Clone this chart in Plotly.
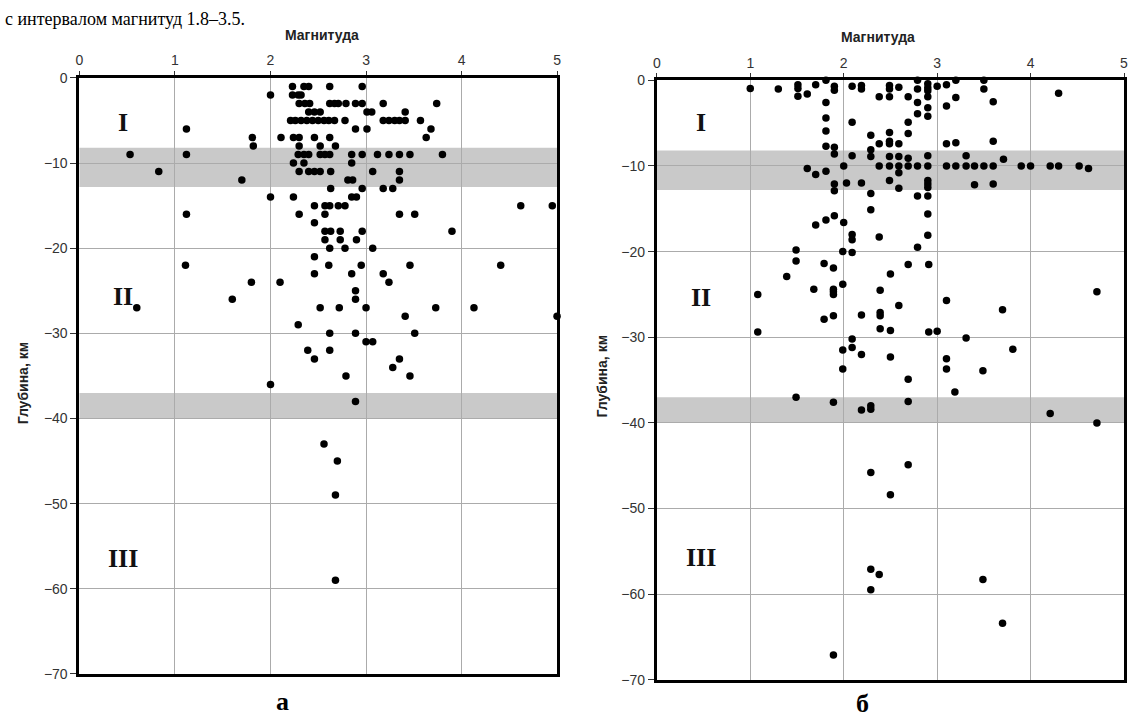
import plotly.graph_objects as go

# ---------------- data ----------------
left_row_depth = [-1, -2, -3, -4, -5, -6, -7, -8, -9, -10, -11, -12, -13, -14, -15, -16,
                  -17, -18, -19, -20, -21, -22, -23, -24, -25, -26, -27, -28, -29, -30,
                  -31, -32, -33, -34, -35, -36, -38, -43, -45, -49, -59]
left_row_mag = [
    [2.23, 2.35, 2.40, 2.62, 2.96],
    [2.00, 2.23, 2.29, 2.32],
    [2.30, 2.36, 2.41, 2.62, 2.67, 2.71, 2.79, 2.89, 2.96, 3.18, 3.74],
    [2.40, 2.46, 2.52, 3.01, 3.06, 3.41],
    [2.21, 2.26, 2.32, 2.38, 2.44, 2.50, 2.56, 2.61, 2.67, 2.78, 3.18, 3.24, 3.30, 3.35, 3.41, 3.57],
    [1.12, 2.89, 3.01, 3.68],
    [1.81, 2.11, 2.24, 2.30, 2.46, 2.62, 3.63],
    [1.82, 2.30, 2.52, 2.68],
    [0.53, 1.12, 2.29, 2.35, 2.40, 2.52, 2.57, 2.62, 2.85, 2.96, 3.12, 3.24, 3.35, 3.46, 3.80],
    [2.24, 2.35, 2.85],
    [0.83, 2.30, 2.40, 2.46, 2.52, 2.63, 3.07, 3.35],
    [1.70, 2.81, 2.86, 3.35],
    [2.63, 2.96, 3.18, 3.28],
    [2.00, 2.24, 2.85, 2.90],
    [2.46, 2.57, 2.62, 2.71, 2.78, 4.62, 4.95],
    [1.12, 2.30, 2.57, 3.35, 3.51],
    [2.46],
    [2.57, 2.63, 2.73, 2.96, 3.90],
    [2.57, 2.73, 2.90],
    [2.62, 2.78, 3.07],
    [2.46],
    [1.11, 2.61, 2.95, 3.46, 4.41],
    [2.46, 2.85, 3.18],
    [1.80, 2.10, 3.24],
    [2.89],
    [1.60, 2.89],
    [0.60, 2.52, 2.72, 3.00, 3.73, 4.13],
    [3.41, 5.00],
    [2.29],
    [2.62, 2.89, 3.51],
    [3.00, 3.07],
    [2.39, 2.62],
    [2.46, 3.35],
    [3.28],
    [2.79, 3.46],
    [2.00],
    [2.89],
    [2.56],
    [2.70],
    [2.68],
    [2.68],
]

right_mag = [
    1.00, 1.30, 1.51, 1.51, 1.51, 1.61, 1.70, 1.81, 1.90, 1.90,
    1.81, 1.81, 1.81, 1.81, 1.90, 1.90,
    1.61, 1.70, 1.81, 2.00, 1.90, 1.90, 2.03,
    1.70, 1.81, 1.90, 2.00,
    2.09, 2.19, 2.19, 2.38, 2.49, 2.49, 2.49, 2.59, 2.69, 2.79, 2.79, 2.79, 2.79,
    2.90, 2.90, 2.90, 2.90, 2.90, 2.90, 3.00, 3.10, 3.20, 3.10, 3.20, 3.50, 3.50, 3.60, 4.30,
    2.09, 2.29, 2.49, 2.69, 2.69, 2.38, 2.49, 2.49, 2.59, 3.10, 3.20, 3.60,
    2.09, 2.29, 2.29, 2.49, 2.59, 2.69, 2.90, 3.31, 3.71,
    2.38, 2.49, 2.59, 2.69, 2.79, 2.90, 3.10, 3.20, 3.31, 3.40, 3.50, 3.60, 3.90, 4.00,
    4.21, 4.30, 4.52, 4.62, 2.59,
    2.19, 2.49, 2.59, 2.90, 2.90, 2.90, 3.40, 3.60,
    2.29, 2.79, 2.90, 2.29, 2.90,
    2.09, 2.09, 2.38, 2.90,
    2.09, 2.79, 1.49, 1.49, 1.99, 1.79, 1.89, 1.39, 2.50, 2.69, 2.91, 1.99, 1.68,
    1.89, 1.89, 1.89, 2.39, 1.08, 4.71, 3.10, 2.59, 3.70, 2.19, 2.39, 2.39, 1.89,
    1.79, 2.39, 2.50, 2.91, 3.00, 1.08, 3.31, 2.09, 2.09, 1.99, 3.81, 2.19, 2.50,
    3.10, 3.10, 1.99, 3.49, 2.69, 3.19, 1.49, 1.89, 2.69, 2.19, 2.29, 2.29, 4.21, 4.71,
    2.29, 2.69, 2.50, 2.29, 2.38, 2.29, 3.49, 3.70, 1.89,
]
right_depth = [
    -0.95, -1.0, -0.5, -0.95, -1.87, -1.6, -0.5, 0.0, -0.7, -1.15,
    -2.6, -4.4, -5.9, -7.7, -7.8, -8.6,
    -10.3, -11.0, -10.6, -10.0, -12.1, -12.9, -12.0,
    -16.9, -16.3, -15.8, -16.6,
    -0.7, -0.6, -1.0, -1.9, -0.6, -1.0, -1.9, -0.8, -1.9, 0.0, -1.0, -2.6, -3.9,
    -0.4, -0.85, -1.2, -1.9, -3.2, -4.2, -0.7, -0.5, 0.0, -3.0, -2.0, 0.0, -1.0, -2.5, -1.5,
    -4.9, -6.4, -6.1, -4.9, -6.2, -7.4, -7.1, -7.4, -7.4, -7.4, -7.3, -7.1,
    -8.8, -8.1, -8.9, -8.9, -8.9, -9.1, -8.8, -8.8, -9.2,
    -10.0, -10.0, -10.0, -10.0, -10.0, -10.0, -10.0, -10.0, -10.0, -10.0, -10.0, -10.0, -10.0, -10.0,
    -10.0, -10.0, -10.0, -10.3, -10.8,
    -12.0, -11.7, -12.6, -11.7, -12.1, -12.5, -12.2, -12.1,
    -13.2, -13.5, -13.5, -15.1, -15.6,
    -18.0, -18.6, -18.3, -18.1,
    -20.1, -19.5, -19.8, -21.1, -20.0, -21.4, -21.9, -22.9, -22.6, -21.5, -21.5, -23.8, -24.4,
    -24.4, -24.7, -25.0, -24.5, -25.0, -24.7, -25.7, -26.3, -26.8, -27.4, -27.1, -27.5, -27.5,
    -27.9, -29.0, -29.2, -29.4, -29.3, -29.4, -30.1, -30.2, -31.2, -31.5, -31.4, -32.0, -32.3,
    -32.5, -33.7, -33.7, -33.9, -34.9, -36.4, -37.0, -37.6, -37.5, -38.5, -38.0, -38.4, -38.9, -40.0,
    -45.8, -44.9, -48.4, -57.1, -57.7, -59.5, -58.3, -63.4, -67.1,
]

band_top = [-8.2, -37.0]
band_bottom = [-12.8, -40.0]
zone_labels = ["I", "II", "III"]
zone_depth_left = [-5.2, -25.7, -56.4]
zone_depth_right = [-4.9, -25.3, -55.7]
x_ticks = [0, 1, 2, 3, 4, 5]
y_ticks = [0, -10, -20, -30, -40, -50, -60, -70]
panel_letters = ["а", "б"]

left_mag = [m for row in left_row_mag for m in row]
left_depth = [d for d, row in zip(left_row_depth, left_row_mag) for _ in row]

# ---------------- figure ----------------
W, H = 1129, 722
def px_x(p):
    return p / W
def px_y(p):
    return 1 - p / H

fig = go.Figure()
marker = dict(color="black", size=7.5, line=dict(width=0))
fig.add_trace(go.Scatter(x=left_mag, y=left_depth, mode="markers", marker=marker,
                         xaxis="x", yaxis="y", cliponaxis=False, showlegend=False))
fig.add_trace(go.Scatter(x=right_mag, y=right_depth, mode="markers", marker=marker,
                         xaxis="x2", yaxis="y2", cliponaxis=False, showlegend=False))

tickfont = dict(family="Liberation Sans, Arial", size=14, color="#333333")
common_x = dict(range=[0, 5], side="top", tickvals=x_ticks, showgrid=True,
                gridcolor="#ababab", gridwidth=1, zeroline=False, showline=True,
                linecolor="black", linewidth=3, mirror=True, ticks="outside",
                ticklen=4, tickcolor="#333333", tickfont=tickfont, fixedrange=True)
common_y = dict(range=[-70, 0], tickvals=y_ticks, showgrid=True,
                gridcolor="#ababab", gridwidth=1, zeroline=False, showline=True,
                linecolor="black", linewidth=3, mirror=True, ticks="outside",
                ticklen=6, tickcolor="#333333", tickfont=tickfont, fixedrange=True)

fig.update_layout(
    width=W, height=H, margin=dict(l=0, r=0, t=0, b=0),
    paper_bgcolor="white", plot_bgcolor="white",
    xaxis=dict(common_x, domain=[px_x(76), px_x(557)], anchor="y"),
    yaxis=dict(common_y, domain=[px_y(681), px_y(71.5)], anchor="x"),
    xaxis2=dict(common_x, domain=[px_x(657.5), px_x(1128)], anchor="y2"),
    yaxis2=dict(common_y, domain=[px_y(687), px_y(74)], anchor="x2"),
)

shapes = []
for xr, yr in (("x", "y"), ("x2", "y2")):
    for t, b in zip(band_top, band_bottom):
        shapes.append(dict(type="rect", xref=f"{xr} domain", yref=yr, x0=0, x1=1,
                           y0=b, y1=t, fillcolor="#c9c9c9", line=dict(width=0),
                           layer="below"))
fig.update_layout(shapes=shapes)

ann = []
roman_font = dict(family="Liberation Serif, Times New Roman", size=26, color="#111111")
for lab, dl, dr in zip(zone_labels, zone_depth_left, zone_depth_right):
    ann.append(dict(text=f"<b>{lab}</b>", x=0.46, y=dl, xref="x", yref="y",
                    xanchor="center", yanchor="middle", showarrow=False, font=roman_font))
    ann.append(dict(text=f"<b>{lab}</b>", x=0.47, y=dr, xref="x2", yref="y2",
                    xanchor="center", yanchor="middle", showarrow=False, font=roman_font))

title_font = dict(family="Liberation Sans, Arial", size=14, color="#222222")
def paper_text(text, x, y, font, angle=0):
    return dict(text=text, x=px_x(x), y=px_y(y), xref="paper", yref="paper",
                xanchor="center", yanchor="middle", showarrow=False, font=font,
                textangle=angle)

ann.append(paper_text("<b>Магнитуда</b>", 320, 28, title_font))
ann.append(paper_text("<b>Магнитуда</b>", 880, 30, title_font))
ann.append(paper_text("<b>Глубина, км</b>", 20, 384, title_font, -90))
ann.append(paper_text("<b>Глубина, км</b>", 602, 377, title_font, -90))

letter_font = dict(family="Liberation Serif, Times New Roman", size=26, color="black")
ann.append(paper_text(f"<b>{panel_letters[0]}</b>", 280, 709, letter_font))
ann.append(paper_text(f"<b>{panel_letters[1]}</b>", 865, 711, letter_font))

ann.append(dict(text="с интервалом магнитуд 1.8–3.5.", x=0, y=1,
                xref="paper", yref="paper", xanchor="left", yanchor="top",
                showarrow=False, borderpad=0,
                font=dict(family="Liberation Serif, Times New Roman", size=18, color="black")))
fig.update_layout(annotations=ann)

fig.write_html("out.html")
